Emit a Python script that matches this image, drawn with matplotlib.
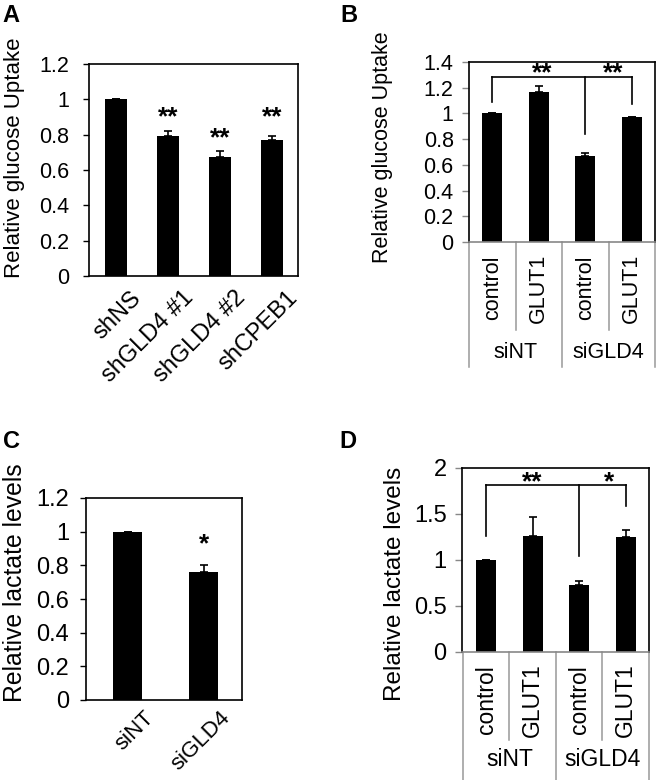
import matplotlib
matplotlib.use("Agg")
import matplotlib.pyplot as plt
import matplotlib.transforms as mtransforms

plt.rcParams['font.family'] = ['Liberation Sans', 'DejaVu Sans']
plt.rcParams['font.size'] = 15.5

W, H = 664, 780

# Panel A - glucose uptake, shRNA
a_labels = ['shNS', 'shGLD4 #1', 'shGLD4 #2', 'shCPEB1']
a_vals = [1.0, 0.79, 0.675, 0.77]
a_err = [0.0, 0.03, 0.03, 0.025]
a_stars = ['', '**', '**', '**']
a_star_y = [0.0, 0.92, 0.80, 0.92]

# Panel B - glucose uptake, siRNA + GLUT1
b_cond = ['control', 'GLUT1', 'control', 'GLUT1']
b_groups = ['siNT', 'siGLD4']
b_vals = [1.0, 1.17, 0.67, 0.97]
b_err = [0.0, 0.04, 0.02, 0.005]
b_bracket_top = 1.28
b_legs = [1.09, 0.84, 1.07]
b_stars = ['**', '**']
b_star_x = [1.07, 2.6]
b_star_y = 1.34

# Panel C - lactate, siRNA
c_labels = ['siNT', 'siGLD4']
c_vals = [1.0, 0.76]
c_err = [0.0, 0.04]
c_stars = ['', '*']
c_star_y = [0.0, 0.95]

# Panel D - lactate, siRNA + GLUT1
d_cond = ['control', 'GLUT1', 'control', 'GLUT1']
d_groups = ['siNT', 'siGLD4']
d_vals = [1.0, 1.26, 0.73, 1.25]
d_err = [0.0, 0.21, 0.04, 0.08]
d_bracket_top = 1.81
d_legs = [1.26, 1.04, 1.59]
d_stars = ['**', '*']
d_star_x = [1.0, 2.65]
d_star_y = 1.89

fig = plt.figure(figsize=(W / 100, H / 100), dpi=100)
star_off = mtransforms.ScaledTranslation(0, -0.04, fig.dpi_scale_trans)


def px_axes(l, t, r, b):
    return fig.add_axes([l / W, 1 - b / H, (r - l) / W, (b - t) / H])


def bars(ax, vals, err, width):
    x = list(range(len(vals)))
    ax.bar(x, vals, width=width, color='black', zorder=2)
    ax.errorbar(x, vals, yerr=[[0] * len(err), err], fmt='none',
                ecolor='black', elinewidth=1.2, capsize=3, capthick=1.2, zorder=3)
    return x


def style(ax, ymax, step, fs, tickcol='black', bottomcol='black', ticklen=4, pad=8):
    ax.set_ylim(0, ymax)
    n = int(round(ymax / step))
    ticks = [i * step for i in range(n + 1)]
    ax.set_yticks(ticks)
    ax.set_yticklabels(['%g' % t for t in ticks], fontsize=fs)
    ax.tick_params(axis='y', direction='out', length=ticklen, width=1,
                   color=tickcol, pad=pad)
    ax.tick_params(axis='x', length=0)
    for s in ['left', 'top', 'right']:
        ax.spines[s].set_color('black')
        ax.spines[s].set_linewidth(1.2)
    ax.spines['bottom'].set_color(bottomcol)
    ax.spines['bottom'].set_linewidth(1.2)


def rot_labels(ax, labels, fs, dx=0.14, dy=-0.06):
    ax.set_xticks(range(len(labels)))
    ax.set_xticklabels(labels, rotation=45, ha='right', rotation_mode='anchor',
                       fontsize=fs)
    off = mtransforms.ScaledTranslation(dx, dy, fig.dpi_scale_trans)
    for lab in ax.get_xticklabels():
        lab.set_transform(lab.get_transform() + off)


def table(ax, cond, groups, b_px, h_px, inner_px, outer_px, cond_px, group_px, fs):
    tr = mtransforms.blended_transform_factory(ax.transData, ax.transAxes)
    f = lambda y: (b_px - y) / h_px
    n = len(cond)
    for i in range(n + 1):
        xb = i - 0.5
        end = outer_px if i % 2 == 0 else inner_px
        ax.plot([xb, xb], [0, f(end)], color='#999999', lw=1.1,
                transform=tr, clip_on=False)
    for i, c in enumerate(cond):
        ax.text(i, f(cond_px), c, rotation=90, ha='center', va='center',
                transform=tr, fontsize=fs)
    for j, g in enumerate(groups):
        ax.text(2 * j + 0.5, f(group_px), g, ha='center', va='center',
                transform=tr, fontsize=fs)
    ax.set_xticks([])


def star(ax, x, y, s):
    ax.text(x, y, s, ha='center', va='center', fontsize=19, fontweight='bold',
            transform=ax.transData + star_off)


def bracket(ax, top, legs, star_x, stars, star_y):
    xs = [0, 2, 3]
    ax.plot([xs[0], xs[-1]], [top, top], color='black', lw=1.2)
    for x, y in zip(xs, legs):
        ax.plot([x, x], [y, top], color='black', lw=1.2)
    for x, s in zip(star_x, stars):
        star(ax, x, star_y, s)


# A
axA = px_axes(89, 64, 298, 276)
xa = bars(axA, a_vals, a_err, 0.42)
axA.set_xlim(-0.52, 3.5)
style(axA, 1.2, 0.2, 15.5, pad=10)
rot_labels(axA, a_labels, 17)
for x, s, y in zip(xa, a_stars, a_star_y):
    if s:
        star(axA, x, y, s)

# B
axB = px_axes(469, 62, 655, 242)
bars(axB, b_vals, b_err, 0.43)
axB.set_xlim(-0.5, 3.5)
style(axB, 1.4, 0.2, 15.5, tickcol='#888888', bottomcol='#888888', ticklen=5, pad=6)
table(axB, b_cond, b_groups, 242, 180, 330, 367, 288, 353, 15.5)
bracket(axB, b_bracket_top, b_legs, b_star_x, b_stars, b_star_y)

# C
axC = px_axes(86, 498, 242, 700)
xc = bars(axC, c_vals, c_err, 0.38)
axC.set_xlim(-0.55, 1.5)
style(axC, 1.2, 0.2, 17, pad=8)
rot_labels(axC, c_labels, 16, dx=0.16, dy=-0.02)
for x, s, y in zip(xc, c_stars, c_star_y):
    if s:
        star(axC, x, y, s)

# D
axD = px_axes(462, 468, 649, 652)
bars(axD, d_vals, d_err, 0.43)
axD.set_xlim(-0.52, 3.5)
style(axD, 2.0, 0.5, 17, tickcol='#888888', bottomcol='#888888', ticklen=5, pad=6)
table(axD, d_cond, d_groups, 652, 184, 740, 790, 700, 760, 16.5)
bracket(axD, d_bracket_top, d_legs, d_star_x, d_stars, d_star_y)

# y labels
fig.text(15 / W, 1 - 158 / H, 'Relative glucose Uptake', rotation=90,
         ha='center', va='center', fontsize=16)
fig.text(382 / W, 1 - 147 / H, 'Relative glucose Uptake', rotation=90,
         ha='center', va='center', fontsize=15.5)
fig.text(15 / W, 1 - 583 / H, 'Relative lactate levels', rotation=90,
         ha='center', va='center', fontsize=17.8)
fig.text(395 / W, 1 - 584 / H, 'Relative lactate levels', rotation=90,
         ha='center', va='center', fontsize=17.5)

# panel letters
for lx, ly, s in [(2, 16, 'A'), (340, 16, 'B'), (3, 441, 'C'), (339, 441, 'D')]:
    fig.text(lx / W, 1 - ly / H, s, fontsize=17, fontweight='bold',
             ha='left', va='center')

fig.savefig('out.png', dpi=100)
